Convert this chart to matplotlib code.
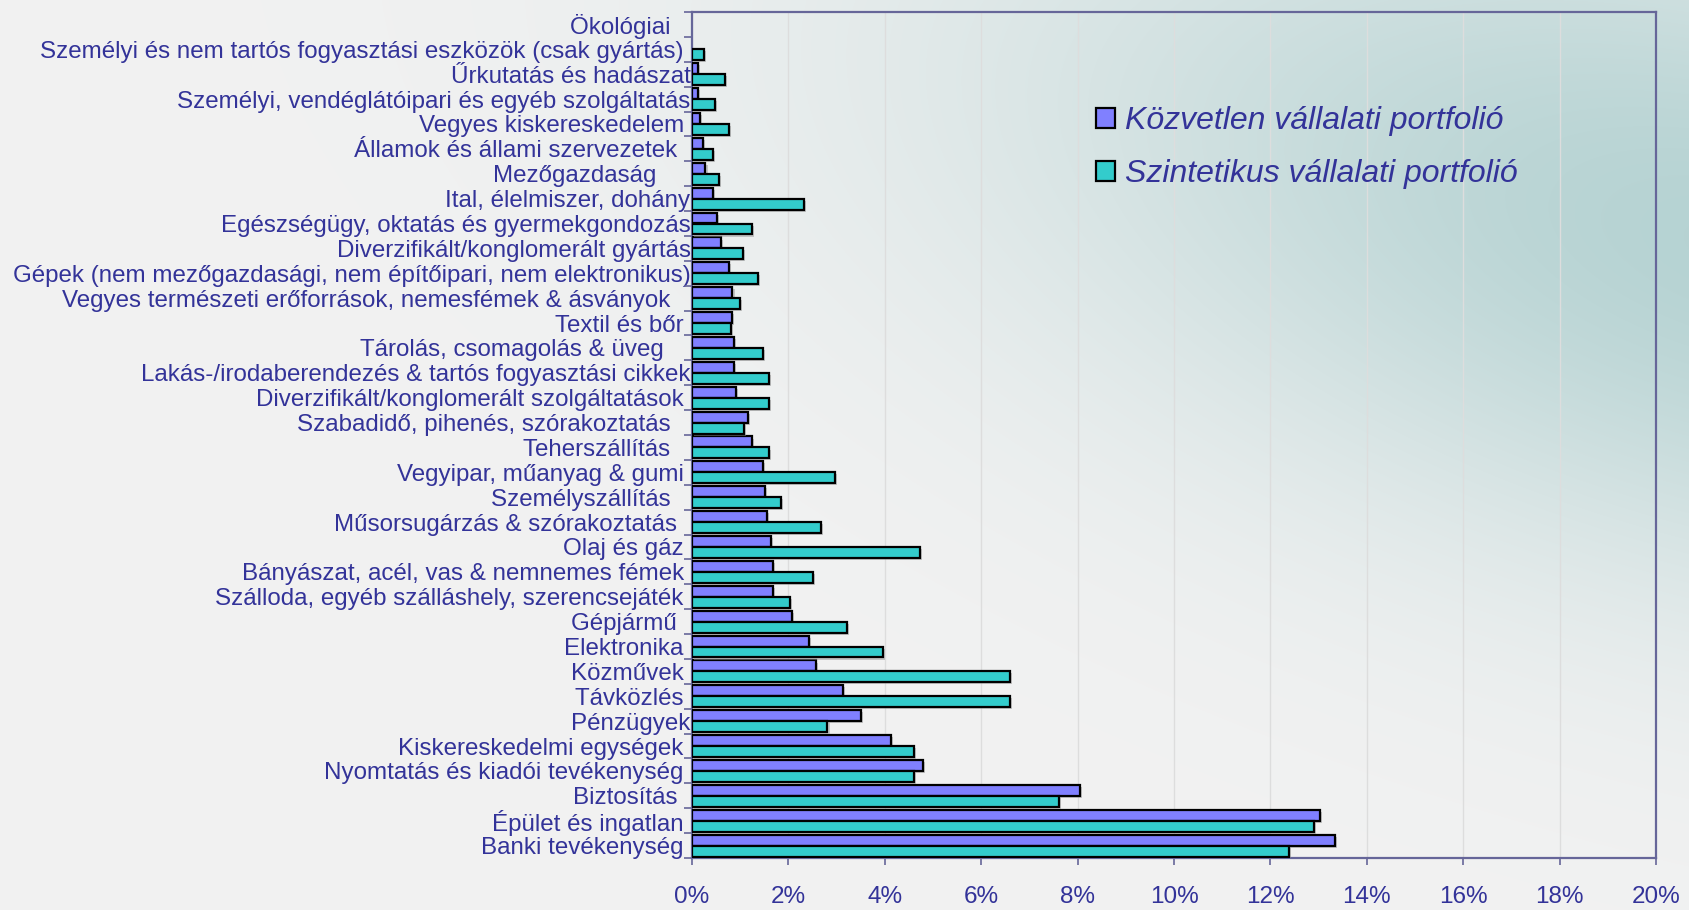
import numpy as np
import matplotlib.pyplot as plt
import matplotlib.patheffects as pe
from matplotlib.patches import Patch
from matplotlib.ticker import FuncFormatter

# ágazatok fentről lefelé
categories = [
    "Ökológiai   ",
    "Személyi és nem tartós fogyasztási eszközök (csak gyártás) ",
    "Űrkutatás és hadászat",
    "Személyi, vendéglátóipari és egyéb szolgáltatás",
    "Vegyes kiskereskedelem ",
    "Államok és állami szervezetek  ",
    "Mezőgazdaság     ",
    "Ital, élelmiszer, dohány",
    "Egészségügy, oktatás és gyermekgondozás",
    "Diverzifikált/konglomerált gyártás",
    "Gépek (nem mezőgazdasági, nem építőipari, nem elektronikus)",
    "Vegyes természeti erőforrások, nemesfémek & ásványok   ",
    "Textil és bőr ",
    "Tárolás, csomagolás & üveg    ",
    "Lakás-/irodaberendezés & tartós fogyasztási cikkek",
    "Diverzifikált/konglomerált szolgáltatások ",
    "Szabadidő, pihenés, szórakoztatás   ",
    "Teherszállítás   ",
    "Vegyipar, műanyag & gumi ",
    "Személyszállítás   ",
    "Műsorsugárzás & szórakoztatás  ",
    "Olaj és gáz ",
    "Bányászat, acél, vas & nemnemes fémek ",
    "Szálloda, egyéb szálláshely, szerencsejáték ",
    "Gépjármű  ",
    "Elektronika ",
    "Közművek ",
    "Távközlés ",
    "Pénzügyek",
    "Kiskereskedelmi egységek ",
    "Nyomtatás és kiadói tevékenység ",
    "Biztosítás  ",
    "Épület és ingatlan ",
    "Banki tevékenység ",
]
kozvetlen = [0.00, 0.00, 0.12, 0.12, 0.17, 0.22, 0.28, 0.44, 0.52, 0.61, 0.76, 0.84,
             0.83, 0.87, 0.87, 0.92, 1.16, 1.24, 1.48, 1.52, 1.56, 1.64, 1.68, 1.68,
             2.07, 2.42, 2.58, 3.14, 3.50, 4.13, 4.80, 8.05, 13.02, 13.33]
szintetikus = [0.00, 0.24, 0.68, 0.48, 0.76, 0.44, 0.56, 2.33, 1.24, 1.05, 1.37, 1.00,
               0.81, 1.47, 1.60, 1.60, 1.08, 1.60, 2.96, 1.84, 2.67, 4.72, 2.51, 2.04,
               3.22, 3.97, 6.59, 6.59, 2.81, 4.61, 4.61, 7.61, 12.90, 12.38]
series_names = ["Közvetlen vállalati portfolió", "Szintetikus vállalati portfolió"]
x_ticks = np.arange(0, 21, 2)

TEXT = '#333399'
AXC = '#666699'
PURPLE = '#8080FF'
TEAL = '#33CCCC'

plt.rcParams['font.family'] = ['Liberation Sans', 'DejaVu Sans']

W, H = 1689, 910
fig = plt.figure(figsize=(W / 100, H / 100), dpi=100)

# háttér: szürke, jobb felső sarokban kékeszöld folttal
bg = fig.add_axes([0, 0, 1, 1], zorder=-10)
yy, xx = np.mgrid[0:H, 0:W]
ang = np.deg2rad(15)
u = (xx - 1750) * np.cos(ang) + (yy - 250) * np.sin(ang)
v = -(xx - 1750) * np.sin(ang) + (yy - 250) * np.cos(ang)
wgt = np.exp(-((u / 760) ** 2 + (v / 330) ** 2)) * 0.95
base = np.array([0.949, 0.949, 0.949])
tint = np.array([0.70, 0.82, 0.82])
img = base[None, None, :] * (1 - wgt[..., None]) + tint[None, None, :] * wgt[..., None]
bg.imshow(img, aspect='auto', extent=(0, W, H, 0))
bg.axis('off')

ax = fig.add_axes([692 / W, 1 - 858 / H, (1656 - 692) / W, (858 - 12) / H])
ax.set_facecolor('none')

n = len(categories)
y = np.arange(n)[::-1].astype(float)
h = 0.44
k = np.array(kozvetlen)
s = np.array(szintetikus)
shadow = [pe.SimplePatchShadow(offset=(1.5, -1.5), shadow_rgbFace='#999999', alpha=0.5), pe.Normal()]
b1 = ax.barh(y + h / 2, k, height=h, color=PURPLE, edgecolor='black',
             linewidth=np.where(k > 0, 1.6, 0), zorder=3)
b2 = ax.barh(y - h / 2, s, height=h, color=TEAL, edgecolor='black',
             linewidth=np.where(s > 0, 1.6, 0), zorder=3)
for b in list(b1) + list(b2):
    b.set_path_effects(shadow)

ax.set_xlim(0, 20)
ax.set_ylim(-0.5, n - 0.5)
ax.set_xticks(x_ticks)
ax.xaxis.set_major_formatter(FuncFormatter(lambda v, p: f'{v:.0f}%'))
ax.set_yticks(y)
ax.set_yticklabels(categories)
ax.set_yticks(np.arange(-0.5, n, 1), minor=True)
ax.tick_params(axis='y', which='major', length=0, pad=1, labelsize=17.4, labelcolor=TEXT)
ax.tick_params(axis='y', which='minor', length=6, width=1.2, color=AXC, direction='out')
ax.tick_params(axis='x', which='major', length=5, width=1.2, color=AXC, pad=15,
               labelsize=17.5, labelcolor=TEXT)
ax.grid(axis='x', color='#dddddd', lw=1, zorder=0)
ax.set_axisbelow(True)
for sp in ax.spines.values():
    sp.set_color(AXC)
    sp.set_linewidth(1.6)

handles = [Patch(facecolor=PURPLE, edgecolor='black', lw=1.6),
           Patch(facecolor=TEAL, edgecolor='black', lw=1.6)]
fig.legend(handles, series_names, loc='upper left', bbox_to_anchor=(0.632, 0.915),
           frameon=False, handlelength=0.6, handleheight=0.6, handletextpad=0.3,
           labelspacing=0.72, prop={'size': 23, 'style': 'italic'}, labelcolor=TEXT)

fig.savefig('out.png', dpi=100)
